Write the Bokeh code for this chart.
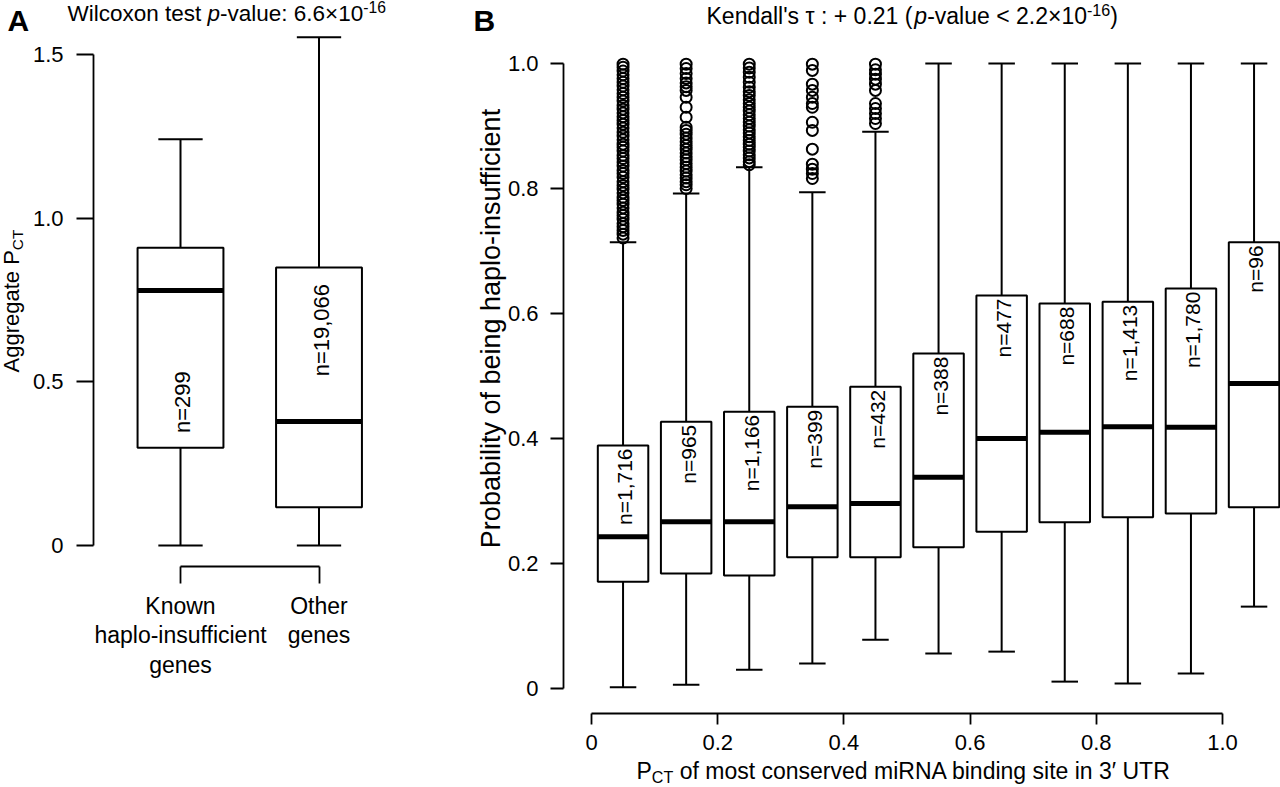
import math

from bokeh.core.properties import value
from bokeh.embed import file_html
from bokeh.layouts import row
from bokeh.models import CustomJSTickFormatter, FixedTicker, Label, Range1d
from bokeh.plotting import figure
from bokeh.resources import INLINE

FONT = "Liberation Sans"

# ---------------- Panel A: aggregate PCT by gene class ----------------
group_pos = [1, 2]
group_names = ["Known\nhaplo-insufficient\ngenes", "Other\ngenes"]
group_counts = ["n=299", "n=19,066"]
a_low = [0.0, 0.0]
a_q1 = [0.299, 0.117]
a_med = [0.779, 0.379]
a_q3 = [0.910, 0.849]
a_high = [1.241, 1.553]
a_ticks = [0, 0.5, 1.0, 1.5]

# ---------------- Panel B: haplo-insufficiency by PCT bin ----------------
bin_mid = [0.05, 0.15, 0.25, 0.35, 0.45, 0.55, 0.65, 0.75, 0.85, 0.95, 1.05]
bin_counts = ["n=1,716", "n=965", "n=1,166", "n=399", "n=432", "n=388",
              "n=477", "n=688", "n=1,413", "n=1,780", "n=96"]
b_low = [0.002, 0.006, 0.030, 0.040, 0.078, 0.056, 0.059, 0.011, 0.008, 0.024, 0.131]
b_q1 = [0.171, 0.184, 0.181, 0.210, 0.210, 0.226, 0.251, 0.266, 0.274, 0.280, 0.290]
b_med = [0.243, 0.267, 0.267, 0.291, 0.296, 0.338, 0.400, 0.410, 0.419, 0.418, 0.488]
b_q3 = [0.389, 0.427, 0.443, 0.451, 0.483, 0.536, 0.629, 0.616, 0.619, 0.640, 0.714]
b_high = [0.714, 0.792, 0.834, 0.794, 0.891, 1.0, 1.0, 1.0, 1.0, 1.0, 1.0]
b_ticks = [0, 0.2, 0.4, 0.6, 0.8, 1.0]

# outlying genes above the upper whisker, first five bins
out_b1 = [0.721, 0.727, 0.733, 0.739, 0.744, 0.751, 0.757, 0.762, 0.769, 0.775,
          0.781, 0.786, 0.793, 0.799, 0.805, 0.811, 0.818, 0.824, 0.829, 0.836,
          0.842, 0.848, 0.853, 0.860, 0.866, 0.871, 0.878, 0.884, 0.890, 0.897,
          0.903, 0.909, 0.915, 0.921, 0.927, 0.933, 0.940, 0.946, 0.952, 0.958,
          0.964, 0.970, 0.976, 0.982, 0.988, 0.994, 0.999]
out_b2 = [0.800, 0.806, 0.811, 0.817, 0.822, 0.828, 0.834, 0.840, 0.846, 0.851,
          0.857, 0.863, 0.869, 0.875, 0.881, 0.887, 0.893, 0.898, 0.914, 0.930,
          0.946, 0.957, 0.963, 0.969, 0.976, 0.984, 0.992, 0.999]
out_b3 = [0.838, 0.843, 0.849, 0.854, 0.860, 0.866, 0.871, 0.877, 0.883, 0.889,
          0.894, 0.900, 0.906, 0.912, 0.918, 0.924, 0.930, 0.936, 0.942, 0.949,
          0.955, 0.962, 0.970, 0.978, 0.986, 0.993, 0.999]
out_b4 = [0.816, 0.824, 0.831, 0.839, 0.863, 0.893, 0.906, 0.930, 0.936, 0.946,
          0.957, 0.967, 0.989, 0.999]
out_b5 = [0.904, 0.912, 0.920, 0.928, 0.936, 0.957, 0.967, 0.975, 0.983, 0.990, 0.999]
outliers_b = [out_b1, out_b2, out_b3, out_b4, out_b5]

# ---------------- page geometry (pixels) ----------------
W, H = 1280, 787
A_W = 465
# panel A: x=1 at 180 px, 138.5 px per unit; y=0 at 545 px, 327.33 px per unit
AX0, AXS, AY0, AYS = 180.0, 138.5, 545.0, 327.33
A_YAXIS_PX, A_XAXIS_PY = 93, 566
# panel B: x=0 at 591 px, 631 px per unit; y=0 at 688 px, 625 px per unit
BX0, BXS, BY0, BYS = 591.0, 631.0, 688.0, 625.0
B_YAXIS_PX, B_XAXIS_PY = 563, 713

# Label draws its alphabetic baseline about a third of an em below the anchor
BASE_FIX = 0.33


def to_a(px, py):
    return 1 + (px - AX0) / AXS, (AY0 - py) / AYS


def to_b(px, py):
    return (px - BX0) / BXS, (BY0 - py) / BYS


# Arial / Liberation Sans advance widths (per 1000 em)
ADV = {" ": 278, "'": 191, "(": 333, ")": 333, "+": 584, ",": 278, "-": 333,
       ".": 278, ":": 278, "<": 584, "×": 584, "τ": 480, "′": 191,
       "A": 667, "C": 722, "K": 667, "N": 722, "P": 667, "R": 722, "T": 611,
       "U": 722, "W": 944, "a": 556, "b": 556, "c": 500, "d": 556, "e": 556,
       "f": 278, "g": 556, "h": 556, "i": 222, "l": 222, "m": 833, "n": 556,
       "o": 556, "p": 556, "r": 333, "s": 500, "t": 278, "u": 556, "v": 500,
       "x": 500, "y": 500}


def text_w(s, size):
    return sum(ADV.get(c, 556) for c in s) * size / 1000.0


def add_label(p, to_data, text, px, py, fs, rotated=False, style="normal", align="left"):
    """Put a text with its alphabetic baseline at page point (px, py)."""
    if rotated:
        px -= BASE_FIX * fs
    else:
        py -= BASE_FIX * fs
    dx, dy = to_data(px, py)
    p.add_layout(Label(x=dx, y=dy, text=text, text_font=FONT, text_font_style=style,
                       text_font_size=f"{fs:.1f}px", text_baseline="alphabetic",
                       text_align=align, angle=math.pi / 2 if rotated else 0.0,
                       text_color="black"))


def place_runs(p, to_data, runs, x, y, size, rotated=False):
    """Lay out runs of (text, style, scale, shift_em) side by side from a baseline point."""
    adv = 0.0
    for txt, style, scale, shift in runs:
        fs = size * scale
        lead = len(txt) - len(txt.lstrip())
        start = adv + text_w(txt[:lead], fs)
        if rotated:
            px, py = x - shift * size, y - start
        else:
            px, py = x + start, y - shift * size
        add_label(p, to_data, txt.strip(), px, py, fs, rotated=rotated, style=style)
        adv += text_w(txt, fs)
    return adv


def style_axis(ax, tick_out, size="22px"):
    ax.axis_line_width = 1.8
    ax.axis_line_color = "black"
    ax.major_tick_line_width = 1.8
    ax.major_tick_line_color = "black"
    ax.major_tick_in = 0
    ax.major_tick_out = tick_out
    ax.minor_tick_line_color = None
    ax.major_label_text_font = FONT
    ax.major_label_text_font_size = size
    ax.major_label_text_color = "black"


def blank_figure(width, x_range, y_range):
    p = figure(width=width, height=H, output_backend="svg", toolbar_location=None,
               title=None, x_range=x_range, y_range=y_range,
               min_border=0, min_border_left=0, min_border_right=0,
               min_border_top=0, min_border_bottom=0)
    p.outline_line_color = None
    p.grid.visible = False
    p.background_fill_color = "white"
    p.border_fill_color = "white"
    return p


fmt = CustomJSTickFormatter(code="return tick == 0 ? '0' : tick.toFixed(1);")

# ================= Panel A =================
xa0, ya1 = to_a(0, 0)
xa1, ya0 = to_a(A_W, H)
pa = blank_figure(A_W, Range1d(xa0, xa1), Range1d(ya0, ya1))

ya = pa.yaxis[0]
style_axis(ya, 17)
ya.ticker = FixedTicker(ticks=a_ticks)
ya.formatter = fmt
ya.bounds = (0, 1.5)
ya.major_label_standoff = 13
ya.fixed_location = to_a(A_YAXIS_PX, 0)[0]

xa = pa.xaxis[0]
style_axis(xa, 17, "23px")
xa.ticker = FixedTicker(ticks=group_pos)
xa.major_label_overrides = {1: group_names[0], 2: group_names[1]}
xa.bounds = (1, 2)
xa.major_label_standoff = 9
xa.major_label_text_line_height = 1.15
xa.fixed_location = to_a(0, A_XAXIS_PY)[1]

box_w_a, cap_w_a = 0.62, 0.32
pa.segment(x0=group_pos, y0=a_q3, x1=group_pos, y1=a_high, line_color="black", line_width=2)
pa.segment(x0=group_pos, y0=a_low, x1=group_pos, y1=a_q1, line_color="black", line_width=2)
pa.segment(x0=[g - cap_w_a / 2 for g in group_pos], y0=a_high,
           x1=[g + cap_w_a / 2 for g in group_pos], y1=a_high, line_color="black", line_width=2)
pa.segment(x0=[g - cap_w_a / 2 for g in group_pos], y0=a_low,
           x1=[g + cap_w_a / 2 for g in group_pos], y1=a_low, line_color="black", line_width=2)
pa.vbar(x=group_pos, width=box_w_a, bottom=a_q1, top=a_q3, fill_color="white",
        line_color="black", line_width=2)
pa.segment(x0=[g - box_w_a / 2 for g in group_pos], y0=a_med,
           x1=[g + box_w_a / 2 for g in group_pos], y1=a_med,
           line_color="black", line_width=5, line_cap="butt")
count_y_a = [0.438, 0.658]
pa.text(x=[g + 0.015 for g in group_pos], y=count_y_a, text=group_counts,
        angle=math.pi / 2, text_align="center", text_baseline="middle",
        text_font=value(FONT), text_font_size="22px", text_color="black")

# panel letter, title and y label
add_label(pa, to_a, "A", 7, 30, 30, style="bold")
place_runs(pa, to_a, [("Wilcoxon test ", "normal", 1, 0), ("p", "italic", 1, 0),
                      ("-value: 6.6×10", "normal", 1, 0), ("-16", "normal", 0.7, 0.36)],
           67, 20, 22.5)
place_runs(pa, to_a, [("Aggregate P", "normal", 1, 0), ("CT", "normal", 0.7, -0.2)],
           18, 372, 22, rotated=True)

# ================= Panel B =================
xb0, yb1 = to_b(A_W, 0)
xb1, yb0 = to_b(W, H)
pb = blank_figure(W - A_W, Range1d(xb0, xb1), Range1d(yb0, yb1))

yb = pb.yaxis[0]
style_axis(yb, 13)
yb.ticker = FixedTicker(ticks=b_ticks)
yb.formatter = fmt
yb.bounds = (0, 1)
yb.major_label_standoff = 12
yb.fixed_location = to_b(B_YAXIS_PX, 0)[0]

xb = pb.xaxis[0]
style_axis(xb, 11)
xb.ticker = FixedTicker(ticks=b_ticks)
xb.formatter = fmt
xb.bounds = (0, 1)
xb.major_label_standoff = 10
xb.fixed_location = to_b(0, B_XAXIS_PY)[1]

box_w_b, cap_w_b = 0.08, 0.042
pb.segment(x0=bin_mid, y0=b_q3, x1=bin_mid, y1=b_high, line_color="black", line_width=2)
pb.segment(x0=bin_mid, y0=b_low, x1=bin_mid, y1=b_q1, line_color="black", line_width=2)
pb.segment(x0=[m - cap_w_b / 2 for m in bin_mid], y0=b_high,
           x1=[m + cap_w_b / 2 for m in bin_mid], y1=b_high, line_color="black", line_width=2)
pb.segment(x0=[m - cap_w_b / 2 for m in bin_mid], y0=b_low,
           x1=[m + cap_w_b / 2 for m in bin_mid], y1=b_low, line_color="black", line_width=2)

ox, oy = [], []
for m, vals in zip(bin_mid, outliers_b):
    ox.extend([m] * len(vals))
    oy.extend(vals)
pb.scatter(x=ox, y=oy, marker="circle", size=11, fill_color=None,
           line_color="black", line_width=2)

pb.vbar(x=bin_mid, width=box_w_b, bottom=b_q1, top=b_q3, fill_color="white",
        line_color="black", line_width=2)
pb.segment(x0=[m - box_w_b / 2 for m in bin_mid], y0=b_med,
           x1=[m + box_w_b / 2 for m in bin_mid], y1=b_med,
           line_color="black", line_width=5, line_cap="butt")
pb.text(x=[m + 0.003 for m in bin_mid], y=[q - 0.005 for q in b_q3], text=bin_counts,
        angle=math.pi / 2, text_align="right", text_baseline="middle",
        text_font=value(FONT), text_font_size="21px", text_color="black")

add_label(pb, to_b, "B", 473, 30, 30, style="bold")
place_runs(pb, to_b, [("Kendall's τ : + 0.21 (", "normal", 1, 0), ("p", "italic", 1, 0),
                      ("-value < 2.2×10", "normal", 1, 0), ("-16", "normal", 0.7, 0.36),
                      (")", "normal", 1, 0)],
           706, 23, 23)
place_runs(pb, to_b, [("P", "normal", 1, 0), ("CT", "normal", 0.7, -0.17),
                      (" of most conserved miRNA binding site in 3′ UTR", "normal", 1, 0)],
           636, 778, 23)
add_label(pb, to_b, "Probability of being haplo-insufficient", 499, 328, 27,
          rotated=True, align="center")

layout = row(pa, pb)
open("out.html", "w").write(file_html(layout, INLINE))
